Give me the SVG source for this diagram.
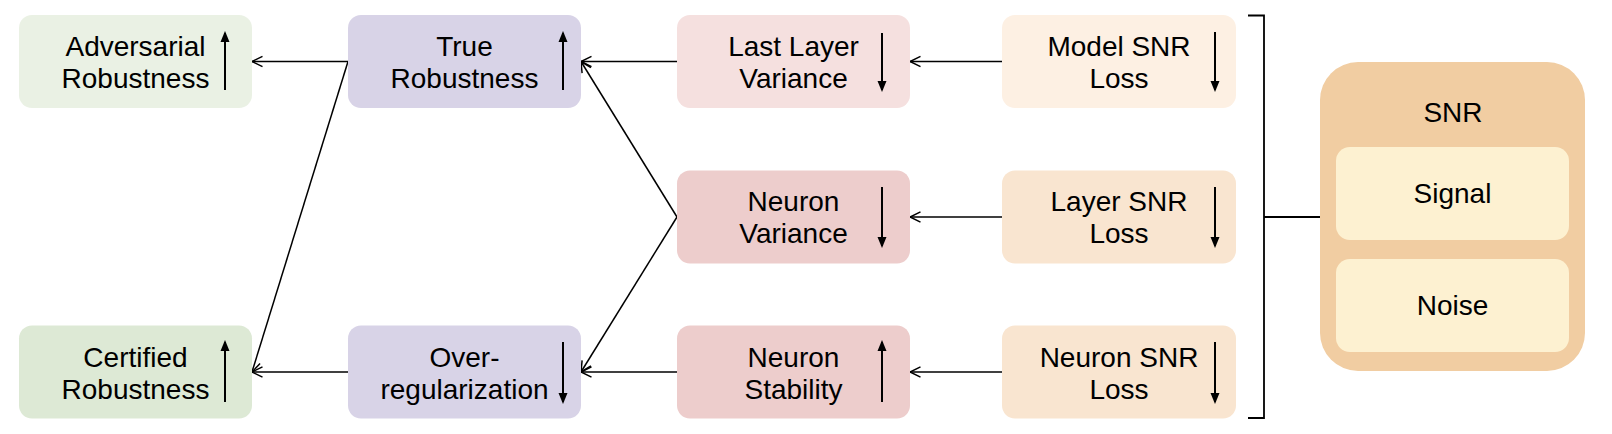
<svg xmlns="http://www.w3.org/2000/svg" width="1612" height="434" viewBox="0 0 1612 434">
<defs>
<marker id="open" markerUnits="userSpaceOnUse" markerWidth="14" markerHeight="14" refX="11" refY="6" orient="auto" viewBox="0 0 14 12" overflow="visible">
<path d="M0.5,0.8 L11,6 L0.5,11.2" fill="none" stroke="#000" stroke-width="1.5"/>
</marker>
<marker id="solid" markerUnits="userSpaceOnUse" markerWidth="10" markerHeight="12" refX="9" refY="4.5" orient="auto" viewBox="0 0 10 9" overflow="visible">
<path d="M0,0 L11,4.5 L0,9 Z" fill="#000"/>
</marker>
</defs>
<style>
text{font-family:"Liberation Sans",Arial,Helvetica,sans-serif;font-size:28px;fill:#000;text-anchor:middle}
.box{stroke:none}
.con{stroke:#000;stroke-width:1.5;fill:none;marker-end:url(#open)}
.ind{stroke:#000;stroke-width:2;fill:none;marker-end:url(#solid)}
.br{stroke:#000;stroke-width:1.8;fill:none}
</style>
<rect width="1612" height="434" fill="#fff"/>

<g id="connectors">
<line class="con" x1="1002" y1="61.5" x2="910" y2="61.5"/>
<line class="con" x1="1002" y1="217" x2="910" y2="217"/>
<line class="con" x1="1002" y1="372" x2="910" y2="372"/>
<line class="con" x1="677" y1="61.5" x2="581" y2="61.5"/>
<line class="con" x1="677" y1="217" x2="581" y2="61.5"/>
<line class="con" x1="677" y1="217" x2="581" y2="372"/>
<line class="con" x1="677" y1="372" x2="581" y2="372"/>
<line class="con" x1="348" y1="61.5" x2="252" y2="61.5"/>
<line class="con" x1="348" y1="61.5" x2="252" y2="372"/>
<line class="con" x1="348" y1="372" x2="252" y2="372"/>
<path class="br" d="M1248,15.5 H1264 V418 H1248 M1264,217 H1320"/>
</g>

<g id="adversarial">
<rect class="box" x="19" y="15" width="233" height="93" rx="13" fill="#eaf1e4"/>
<text x="135.5" y="56">Adversarial</text>
<text x="135.5" y="88">Robustness</text>
<line class="ind" x1="225" y1="90" x2="225" y2="33"/>
</g>
<g id="certified">
<rect class="box" x="19" y="325.5" width="233" height="93" rx="13" fill="#dde9d5"/>
<text x="135.5" y="366.5">Certified</text>
<text x="135.5" y="398.5">Robustness</text>
<line class="ind" x1="225" y1="402" x2="225" y2="342"/>
</g>
<g id="true-robustness">
<rect class="box" x="348" y="15" width="233" height="93" rx="13" fill="#d8d3e7"/>
<text x="464.5" y="56">True</text>
<text x="464.5" y="88">Robustness</text>
<line class="ind" x1="563" y1="90" x2="563" y2="33"/>
</g>
<g id="over-regularization">
<rect class="box" x="348" y="325.5" width="233" height="93" rx="13" fill="#d8d3e7"/>
<text x="464.5" y="366.5">Over-</text>
<text x="464.5" y="398.5">regularization</text>
<line class="ind" x1="563" y1="342" x2="563" y2="402"/>
</g>
<g id="last-layer-variance">
<rect class="box" x="677" y="15" width="233" height="93" rx="13" fill="#f5e0df"/>
<text x="793.5" y="56">Last Layer</text>
<text x="793.5" y="88">Variance</text>
<line class="ind" x1="882" y1="33" x2="882" y2="90"/>
</g>
<g id="neuron-variance">
<rect class="box" x="677" y="170.5" width="233" height="93" rx="13" fill="#edcdcc"/>
<text x="793.5" y="211">Neuron</text>
<text x="793.5" y="243">Variance</text>
<line class="ind" x1="882" y1="187" x2="882" y2="246"/>
</g>
<g id="neuron-stability">
<rect class="box" x="677" y="325.5" width="233" height="93" rx="13" fill="#edcdcc"/>
<text x="793.5" y="366.5">Neuron</text>
<text x="793.5" y="398.5">Stability</text>
<line class="ind" x1="882" y1="402" x2="882" y2="342"/>
</g>
<g id="model-snr-loss">
<rect class="box" x="1002" y="15" width="234" height="93" rx="13" fill="#fdf0e3"/>
<text x="1119" y="56">Model SNR</text>
<text x="1119" y="88">Loss</text>
<line class="ind" x1="1215" y1="32" x2="1215" y2="90"/>
</g>
<g id="layer-snr-loss">
<rect class="box" x="1002" y="170.5" width="234" height="93" rx="13" fill="#f9e5d0"/>
<text x="1119" y="211">Layer SNR</text>
<text x="1119" y="243">Loss</text>
<line class="ind" x1="1215" y1="187" x2="1215" y2="246"/>
</g>
<g id="neuron-snr-loss">
<rect class="box" x="1002" y="325.5" width="234" height="93" rx="13" fill="#f9e5d0"/>
<text x="1119" y="366.5">Neuron SNR</text>
<text x="1119" y="398.5">Loss</text>
<line class="ind" x1="1215" y1="342" x2="1215" y2="402"/>
</g>
<g id="snr">
<rect class="box" x="1320" y="62" width="265" height="309" rx="38" fill="#f1cda2"/>
<text x="1453" y="122">SNR</text>
</g>
<g id="signal">
<rect class="box" x="1336" y="147" width="233" height="93" rx="14" fill="#fdf1d1"/>
<text x="1452.5" y="203">Signal</text>
</g>
<g id="noise">
<rect class="box" x="1336" y="259" width="233" height="93" rx="14" fill="#fdf1d1"/>
<text x="1452.5" y="315">Noise</text>
</g>
</svg>
